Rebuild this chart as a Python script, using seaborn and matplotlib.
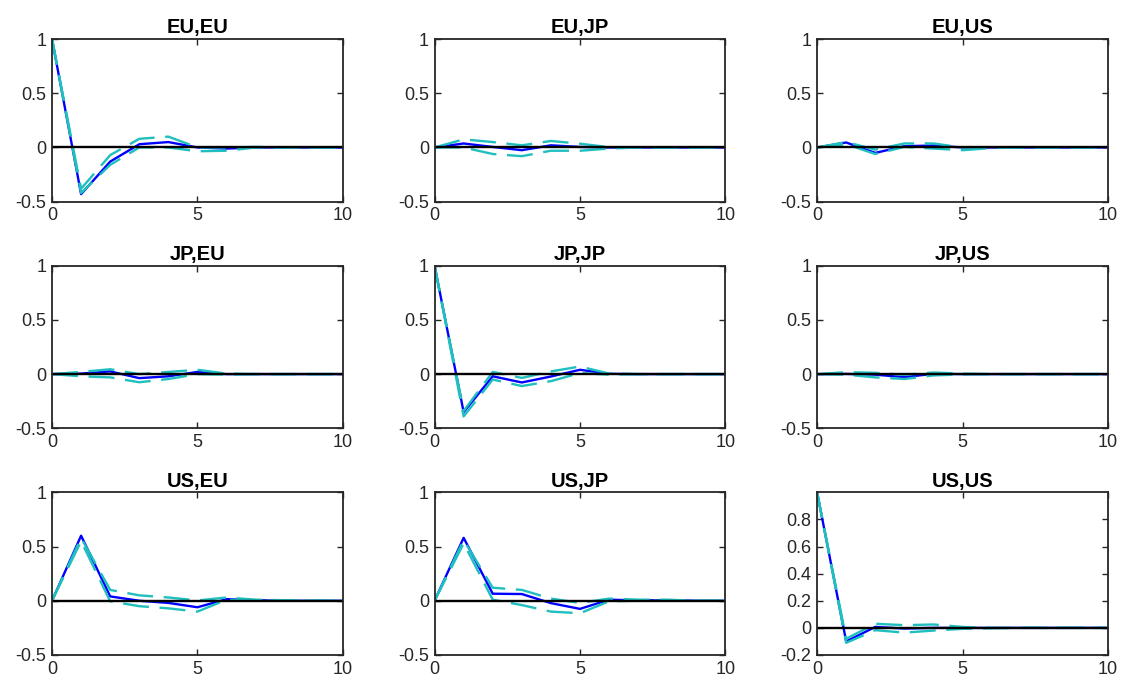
#!/usr/bin/env python3
"""
Impulse responses (3x3 grid) with error bands, MATLAB-style look.
"""

import numpy as np
import pandas as pd
import matplotlib
matplotlib.use("Agg")
import matplotlib.pyplot as plt
import seaborn as sns

horizon = list(range(11))
titles = ["EU,EU", "EU,JP", "EU,US",
          "JP,EU", "JP,JP", "JP,US",
          "US,EU", "US,JP", "US,US"]

# point estimates and bands
eu_eu_mid = [1.0, -0.43, -0.13, 0.03, 0.05, 0.0, -0.01, 0.0, 0.0, 0.0, 0.0]
eu_eu_up = [1.0, -0.38, -0.07, 0.08, 0.10, 0.0, 0.0, 0.005, 0.0, 0.0, 0.0]
eu_eu_lo = [1.0, -0.42, -0.16, 0.0, 0.0, -0.035, -0.03, 0.0, 0.0, 0.0, 0.0]

eu_jp_mid = [0.0, 0.037, 0.005, -0.025, 0.02, 0.005, 0.0, 0.0, 0.0, 0.0, 0.0]
eu_jp_up = [0.0, 0.075, 0.05, 0.02, 0.06, 0.035, 0.003, 0.0, 0.0, 0.0, 0.0]
eu_jp_lo = [0.0, 0.0, -0.06, -0.08, -0.03, -0.03, -0.01, 0.0, 0.0, 0.0, 0.0]

eu_us_mid = [0.0, 0.046, -0.05, 0.012, 0.018, 0.0, 0.0, 0.0, 0.0, 0.0, 0.0]
eu_us_up = [0.0, 0.05, -0.02, 0.037, 0.037, 0.0, 0.0, 0.0, 0.0, 0.0, 0.0]
eu_us_lo = [0.0, 0.03, -0.06, 0.005, -0.01, -0.025, -0.005, 0.0, 0.0, 0.0, 0.0]

jp_eu_mid = [0.0, 0.005, 0.025, -0.037, -0.02, 0.02, 0.0, 0.0, 0.0, 0.0, 0.0]
jp_eu_up = [0.0, 0.02, 0.045, 0.0, 0.02, 0.04, 0.005, 0.0, 0.0, 0.0, 0.0]
jp_eu_lo = [0.0, -0.02, -0.03, -0.075, -0.045, 0.0, -0.005, 0.0, 0.0, 0.0, 0.0]

jp_jp_mid = [1.0, -0.35, -0.02, -0.077, -0.022, 0.04, 0.003, 0.0, 0.0, 0.0, 0.0]
jp_jp_up = [1.0, -0.34, 0.02, -0.035, 0.025, 0.07, 0.005, 0.0, 0.0, 0.0, 0.0]
jp_jp_lo = [1.0, -0.39, -0.05, -0.11, -0.065, 0.01, -0.005, 0.0, 0.0, 0.0, 0.0]

jp_us_mid = [0.0, 0.002, -0.005, -0.028, 0.003, 0.0, 0.0, 0.0, 0.0, 0.0, 0.0]
jp_us_up = [0.0, 0.018, 0.012, -0.006, 0.015, 0.005, 0.0, 0.0, 0.0, 0.0, 0.0]
jp_us_lo = [0.0, -0.005, -0.03, -0.045, -0.012, -0.003, 0.0, 0.0, 0.0, 0.0, 0.0]

us_eu_mid = [0.0, 0.60, 0.04, 0.0, -0.02, -0.06, 0.015, 0.005, 0.0, 0.0, 0.0]
us_eu_up = [0.0, 0.58, 0.10, 0.05, 0.03, 0.003, 0.03, 0.01, 0.005, 0.0, 0.0]
us_eu_lo = [0.0, 0.55, -0.005, -0.05, -0.07, -0.10, 0.01, 0.0, 0.0, 0.0, 0.0]

us_jp_mid = [0.0, 0.58, 0.065, 0.062, -0.022, -0.075, 0.01, 0.003, 0.005, 0.0, 0.0]
us_jp_up = [0.0, 0.56, 0.12, 0.10, 0.02, -0.02, 0.02, 0.01, 0.01, 0.0, 0.0]
us_jp_lo = [0.0, 0.53, 0.01, -0.04, -0.10, -0.115, -0.005, 0.0, 0.0, 0.0, 0.0]

us_us_mid = [1.0, -0.10, 0.007, -0.005, 0.0, 0.0, 0.0, 0.0, 0.0, 0.0, 0.0]
us_us_up = [1.0, -0.08, 0.03, 0.02, 0.025, 0.007, 0.0, 0.0, 0.0, 0.0, 0.0]
us_us_lo = [1.0, -0.11, -0.017, -0.035, -0.02, -0.007, -0.003, 0.0, 0.0, 0.0, 0.0]

panels = [
    (eu_eu_mid, eu_eu_up, eu_eu_lo), (eu_jp_mid, eu_jp_up, eu_jp_lo), (eu_us_mid, eu_us_up, eu_us_lo),
    (jp_eu_mid, jp_eu_up, jp_eu_lo), (jp_jp_mid, jp_jp_up, jp_jp_lo), (jp_us_mid, jp_us_up, jp_us_lo),
    (us_eu_mid, us_eu_up, us_eu_lo), (us_jp_mid, us_jp_up, us_jp_lo), (us_us_mid, us_us_up, us_us_lo),
]

sns.set_style("ticks")
plt.rcParams['font.family'] = ['Liberation Sans', 'DejaVu Sans']
plt.rcParams['axes.unicode_minus'] = False

blue = '#0000ff'
cyan = '#1fbfbf'
dash = [11, 4.5]

fig, axes = plt.subplots(3, 3, figsize=(11.21, 6.81), dpi=100)
fig.subplots_adjust(left=0.0464, right=0.9884, top=0.9427, bottom=0.0382,
                    wspace=0.315, hspace=0.393)

for i, ax in enumerate(axes.flat):
    mid, up, lo = panels[i]
    df = pd.DataFrame({'h': horizon, 'mid': mid, 'up': up, 'lo': lo})
    sns.lineplot(data=df, x='h', y='mid', ax=ax, color=blue, linewidth=1.7)
    sns.lineplot(data=df, x='h', y='up', ax=ax, color=cyan, linewidth=1.7)
    sns.lineplot(data=df, x='h', y='lo', ax=ax, color=cyan, linewidth=1.7)
    ax.lines[1].set_dashes(dash)
    ax.lines[2].set_dashes(dash)
    ax.axhline(0, color='black', linewidth=1.7)

    ax.set_xlim(0, 10)
    ax.set_xticks([0, 5, 10])
    if titles[i] == "US,US":
        ax.set_ylim(-0.2, 1.0)
        ax.set_yticks([-0.2, 0, 0.2, 0.4, 0.6, 0.8])
        ax.set_yticklabels(['-0.2', '0', '0.2', '0.4', '0.6', '0.8'])
    else:
        ax.set_ylim(-0.5, 1.0)
        ax.set_yticks([-0.5, 0, 0.5, 1])
        ax.set_yticklabels(['-0.5', '0', '0.5', '1'])
    ax.set_xlabel('')
    ax.set_ylabel('')
    ax.set_title(titles[i], fontsize=14.5, fontweight='bold', pad=4,
                 color='black')
    ax.tick_params(direction='in', top=True, right=True, length=4,
                   width=1.0, labelsize=13, color='#262626',
                   labelcolor='#262626', pad=4)
    for s in ax.spines.values():
        s.set_visible(True)
        s.set_color('#262626')
        s.set_linewidth(1.3)

plt.savefig('out.png', dpi=100)
